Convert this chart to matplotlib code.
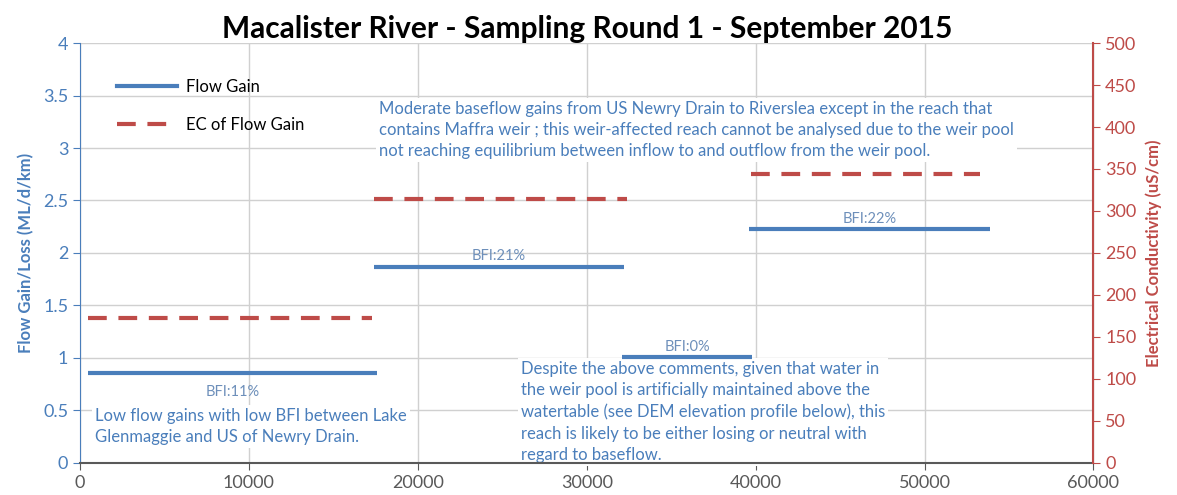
import matplotlib.pyplot as plt
from matplotlib.lines import Line2D

# reach extents along the river (m) and results per reach
flow_start = [470, 17400, 32100, 39600]
flow_end = [17600, 32200, 39800, 53900]
flow_gain = [0.86, 1.87, 1.01, 2.23]
bfi_labels = ['BFI:11%', 'BFI:21%', 'BFI:0%', 'BFI:22%']

ec_start = [470, 17400, 39700]
ec_end = [17300, 32400, 53300]
ec_value = [172, 314, 344]

blue = '#4a7ebb'
red = '#be4b48'
grey = '#595959'
dash = (0, (4.5, 2.8))

plt.rcParams['font.family'] = ['Lato', 'DejaVu Sans']

fig, ax = plt.subplots(figsize=(11.77, 4.95), dpi=100)
fig.subplots_adjust(left=0.068, right=0.929, top=0.913, bottom=0.065)
ax2 = ax.twinx()

for x0, x1, g in zip(flow_start, flow_end, flow_gain):
    ax.plot([x0, x1], [g, g], color=blue, lw=3, solid_capstyle='butt', zorder=5)
for x0, x1, e in zip(ec_start, ec_end, ec_value):
    ax2.plot([x0, x1], [e, e], color=red, lw=3, ls=dash, zorder=5)

# BFI labels next to each flow gain segment
bfi_pos = [(0, -0.12), (1, 0.03), (2, 0.03), (3, 0.03)]
for i, dy in bfi_pos:
    xm = (flow_start[i] + flow_end[i]) / 2
    va = 'top' if dy < 0 else 'bottom'
    ax.text(xm, flow_gain[i] + dy, bfi_labels[i], color='#6d8fba', fontsize=10.5,
            ha='center', va=va, zorder=6)

ax.set_xlim(0, 60000)
ax.set_ylim(0, 4)
ax2.set_ylim(0, 500)
ax.set_xticks(range(0, 60001, 10000))
ax.set_yticks([0, 0.5, 1, 1.5, 2, 2.5, 3, 3.5, 4])
ax.set_yticklabels(['0', '0.5', '1', '1.5', '2', '2.5', '3', '3.5', '4'])
ax2.set_yticks(range(0, 501, 50))

ax.grid(True, color='#d0d0d0', lw=1)
ax.set_axisbelow(True)

ax.tick_params(axis='y', colors=blue, labelsize=13, length=5)
ax.tick_params(axis='x', colors=grey, labelsize=13, length=5)
ax2.tick_params(axis='y', colors=red, labelsize=13, length=5)
ax.spines['left'].set_color(blue)
ax.spines['bottom'].set_color(grey)
ax.spines['bottom'].set_linewidth(1.5)
ax.spines['bottom'].set_zorder(7)
ax.spines['top'].set_visible(False)
ax2.spines['top'].set_visible(False)
ax2.spines['left'].set_visible(False)
ax2.spines['bottom'].set_visible(False)
ax2.spines['right'].set_color(red)
ax2.spines['right'].set_linewidth(1.5)

ax.set_ylabel('Flow Gain/Loss (ML/d/km)', color=blue, fontsize=12, fontweight='bold', labelpad=6)
ax2.set_ylabel('Electrical Conductivity (uS/cm)', color=red, fontsize=12, fontweight='bold', labelpad=6)
ax.set_title('Macalister River - Sampling Round 1 - September 2015',
             fontsize=21.5, fontweight='bold', pad=3)

handles = [Line2D([], [], color=blue, lw=3),
           Line2D([], [], color=red, lw=3, ls=dash)]
leg = ax2.legend(handles, ['Flow Gain', 'EC of Flow Gain'], loc='upper left',
                 bbox_to_anchor=(0.022, 0.95), frameon=False, fontsize=12,
                 labelspacing=1.3, handlelength=3.6, handletextpad=0.5)

note_style = dict(color=blue, fontsize=12, linespacing=1.4, zorder=4,
                  bbox=dict(facecolor='white', edgecolor='none', pad=2))
ax.text(17700, 3.5 - 0.05,
        'Moderate baseflow gains from US Newry Drain to Riverslea except in the reach that\n'
        'contains Maffra weir ; this weir-affected reach cannot be analysed due to the weir pool\n'
        'not reaching equilibrium between inflow to and outflow from the weir pool.',
        va='top', **note_style)
ax.text(26100, 0.0,
        'Despite the above comments, given that water in\n'
        'the weir pool is artificially maintained above the\n'
        'watertable (see DEM elevation profile below), this\n'
        'reach is likely to be either losing or neutral with\n'
        'regard to baseflow.',
        va='bottom', **note_style)
ax.text(900, 0.17,
        'Low flow gains with low BFI between Lake\n'
        'Glenmaggie and US of Newry Drain.',
        va='bottom', **note_style)

fig.savefig('out.png', dpi=100)
